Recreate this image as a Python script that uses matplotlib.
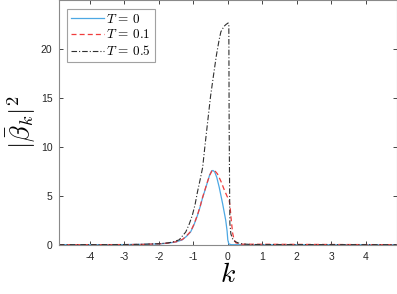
import matplotlib
matplotlib.use("Agg")
import matplotlib.pyplot as plt

plt.rcParams['mathtext.fontset'] = 'cm'
plt.rcParams['font.family'] = ['Liberation Sans', 'DejaVu Sans']

# T = 0
k0 = [-4.9, -3.0, -2.5, -2.0, -1.75, -1.5, -1.32, -1.2, -1.08, -0.98, -0.88, -0.8, -0.74, -0.66,
      -0.59, -0.53, -0.47, -0.43, -0.38, -0.32, -0.25, -0.15, -0.06, -0.02, 0.0, 0.03, 0.1, 4.9]
v0 = [0.0, 0.01, 0.03, 0.08, 0.15, 0.28, 0.5, 0.85, 1.3, 2.05, 3.0, 3.9, 4.7, 5.6,
      6.4, 7.1, 7.55, 7.6, 7.45, 6.9, 5.9, 4.2, 2.5, 1.4, 0.5, 0.08, 0.0, 0.0]

# T = 0.1
k1 = [-4.9, -3.0, -2.5, -2.0, -1.75, -1.5, -1.32, -1.2, -1.08, -0.98, -0.88, -0.8, -0.74, -0.66,
      -0.59, -0.52, -0.46, -0.42, -0.36, -0.3, -0.2, -0.1, -0.02, 0.04, 0.07, 0.09, 0.14, 0.18,
      0.23, 0.35, 4.9]
v1 = [0.0, 0.01, 0.03, 0.09, 0.16, 0.3, 0.53, 0.9, 1.35, 2.1, 3.05, 3.95, 4.75, 5.65,
      6.45, 7.15, 7.55, 7.62, 7.5, 7.25, 6.5, 5.6, 4.95, 4.55, 3.8, 2.9, 1.2, 0.55,
      0.2, 0.05, 0.0]

# T = 0.5
k2 = [-4.9, -3.0, -2.5, -2.0, -1.75, -1.6, -1.41, -1.22, -1.12, -1.03, -0.95, -0.88, -0.8,
      -0.73, -0.66, -0.59, -0.5, -0.4, -0.33, -0.25, -0.2, -0.11, -0.05, 0.01, 0.03, 0.04,
      0.06, 0.09, 0.14, 0.2, 0.3, 0.45, 0.7, 4.9]
v2 = [0.0, 0.01, 0.04, 0.1, 0.18, 0.27, 0.5, 1.3, 2.1, 3.0, 4.1, 5.4, 6.7,
      7.9, 10.2, 12.4, 15.2, 17.7, 19.4, 21.0, 21.8, 22.35, 22.55, 22.7, 22.6, 12.0,
      2.2, 1.1, 0.6, 0.35, 0.18, 0.07, 0.02, 0.0]

labels = [r'$T\,=\,0$', r'$T\,=\,0.1$', r'$T\,=\,0.5$']
xticks = [-4, -3, -2, -1, 0, 1, 2, 3, 4]
yticks = [0, 5, 10, 15, 20]

fig = plt.figure(figsize=(3.97, 2.94), dpi=100)
ax = fig.add_axes([0.1494, 0.1677, 0.8496, 0.8306])

ax.plot(k0, v0, color='#4DA8E4', lw=0.9, ls='-', label=labels[0])
ax.plot(k1, v1, color='#F03C3C', lw=0.9, ls=(0, (4, 2.5)), label=labels[1])
ax.plot(k2, v2, color='#303030', lw=0.8, ls=(0, (5, 1.8, 1, 1.8)), label=labels[2])

ax.set_xlim(-4.89, 4.9)
ax.set_ylim(0, 25)
ax.set_xticks(xticks)
ax.set_xticklabels([str(t) for t in xticks])
ax.set_yticks(yticks)
ax.tick_params(direction='in', length=3, width=0.6, colors='#262626', labelsize=7.5,
               top=True, right=True, pad=5)
for s in ax.spines.values():
    s.set_color('#8a8a8a')
    s.set_linewidth(0.8)

ax.set_xlabel(r'$k$', fontsize=20, labelpad=0)
ax.set_ylabel(r'$|\bar{\beta}_k|^2$', fontsize=19, labelpad=2)

leg = ax.legend(loc='upper left', bbox_to_anchor=(0.024, 0.967), fontsize=9.5,
                frameon=True, fancybox=False, handlelength=2.5, handletextpad=0.15,
                borderpad=0.3, labelspacing=0.22, borderaxespad=0)
leg.get_frame().set_edgecolor('#8a8a8a')
leg.get_frame().set_linewidth(0.8)

fig.savefig('out.png', dpi=100)
